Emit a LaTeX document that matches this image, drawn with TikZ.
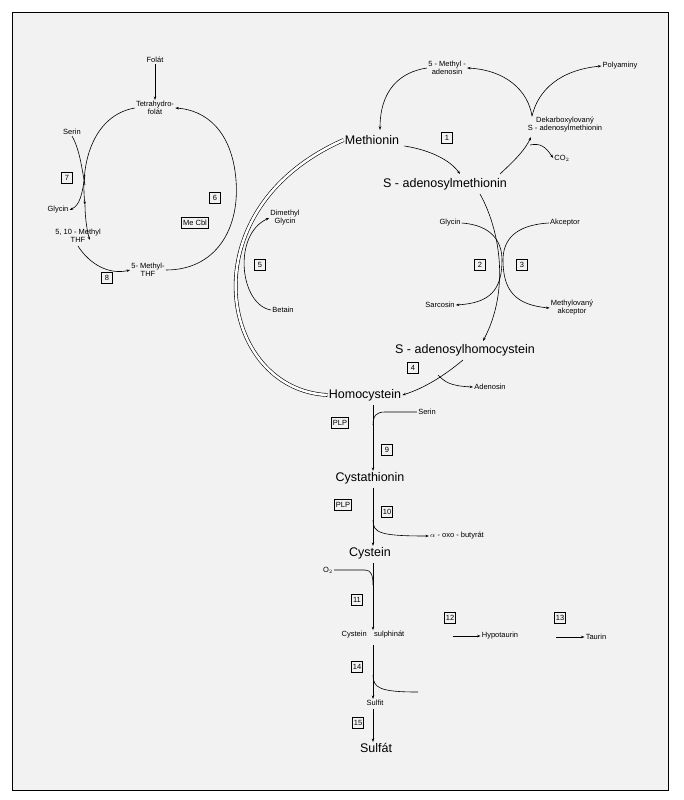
\documentclass[tikz,border=0pt]{standalone}
\usepackage{fontspec}
\setmainfont{Liberation Sans}
\usetikzlibrary{arrows.meta}

\begin{document}
\begin{tikzpicture}[x=1pt,y=-1pt,
  sm/.style={font=\fontsize{7.5}{8}\selectfont,align=center,inner sep=1pt},
  big/.style={font=\fontsize{12.5}{14}\selectfont,inner sep=1pt},
  num/.style={draw,font=\fontsize{7.5}{8}\selectfont,inner sep=1.5pt,minimum size=11pt},
  ar/.style={-{Stealth[length=3.5pt,width=2.5pt]}},
  line width=0.6pt]
\useasboundingbox (0,0) rectangle (684,800);
\fill[gray!10] (12,12) rectangle (668,790);
\draw[line width=0.8pt] (12,12) rectangle (668,790);

% folate cycle
\node[sm] (fol) at (155,60) {Folát};
\node[sm] (thf) at (155,108) {Tetrahydro-\\folát};
\node[sm] (ser) at (72,132) {Serin};
\node[sm] (gly) at (58,210) {Glycin};
\node[sm] (mthf) at (78,236) {5, 10 - Methyl\\THF};
\node[sm] (fmthf) at (148,270) {5- Methyl-\\THF};
\node[num] (n7) at (67,178) {7};
\node[num] (n8) at (107,278) {8};
\node[num] (n6) at (215,198) {6};
\node[num] (mecbl) at (195,223) {Me Cbl};
\draw[ar] (fol) -- (thf);
\draw[ar] (thf.west) .. controls (95,115) and (80,160) .. (85,205);
\draw[ar] (85,175) .. controls (82,195) and (80,205) .. (gly.east);
\draw (ser.south) .. controls (80,150) and (82,170) .. (85,185);
\draw[ar] (85,205) .. controls (85,220) and (88,235) .. (90,240);
\draw[ar] (mthf.south) ++(0,2) .. controls (90,265) and (110,275) .. (fmthf.west);
\draw[ar] (fmthf.east) .. controls (215,270) and (240,230) .. (236,180)
  .. controls (232,130) and (205,110) .. (thf.east);

% methionine remethylation (double arc)
\node[big] (met) at (372,140) {Methionin};
\node[big] (hcy) at (365,395) {Homocystein};
\draw[double,double distance=2.5pt] (hcy.west) .. controls (220,390) and (185,210) .. (met.west);
\node[sm] (dmg) at (285,218) {Dimethyl\\Glycin};
\node[sm] (bet) at (283,310) {Betain};
\node[num] (n5) at (260,265) {5};
\draw[ar] (bet.west) .. controls (240,305) and (232,235) .. (dmg.west);

% methionine cycle
\node[num] (n1) at (447,138) {1};
\node[big] (sam) at (445,184) {S - adenosylmethionin};
\node[sm] (dsam) at (565,125) {Dekarboxylovaný\\S - adenosylmethionin};
\node[sm] (co2) at (562,158) {CO$_2$};
\node[sm] (poly) at (620,66) {Polyaminy};
\node[sm] (mta) at (447,68) {5 - Methyl -\\adenosin};
\draw[ar] (met.east) ++(4,6) .. controls (430,150) and (450,160) .. (460,174);
\draw[ar] (500,174) .. controls (515,160) and (525,150) .. (531,137);
\draw[ar] (530,145) .. controls (540,143) and (545,146) .. (co2.west);
\draw[ar] (dsam.north) ++(-33,0) .. controls (528,90) and (505,70) .. (mta.east);
\draw[ar] (dsam.north) ++(-33,0) .. controls (538,90) and (560,70) .. (poly.west);
\draw[ar] (mta.west) .. controls (400,72) and (380,90) .. (380,130);

\node[sm] (glyb) at (450,223) {Glycin};
\node[sm] (akc) at (565,223) {Akceptor};
\node[num] (n2) at (480,265) {2};
\node[num] (n3) at (522,265) {3};
\node[sm] (sar) at (440,305) {Sarcosin};
\node[sm] (makc) at (572,308) {Methylovaný\\akceptor};
\node[big] (sah) at (465,350) {S - adenosylhomocystein};
\draw[ar] (480,194) .. controls (500,230) and (510,290) .. (483,341);
\draw[ar] (glyb.east) .. controls (490,225) and (502,240) .. (502,260)
  .. controls (502,290) and (490,303) .. (sar.east);
\draw[ar] (akc.west) .. controls (515,225) and (503,240) .. (503,260)
  .. controls (503,290) and (515,305) .. (makc.west);
\node[num] (n4) at (413,368) {4};
\node[sm] (ado) at (490,387) {Adenosin};
\draw[ar] (463,360) .. controls (445,375) and (425,388) .. (hcy.east);
\draw[ar] (438,375) .. controls (445,382) and (450,386) .. (ado.west);

% transsulfuration
\node[num] (plp1) at (340,423) {PLP};
\node[sm] (ser2) at (427,412) {Serin};
\node[num] (n9) at (387,450) {9};
\node[big] (cth) at (370,478) {Cystathionin};
\node[num] (plp2) at (343,505) {PLP};
\node[num] (n10) at (387,512) {10};
\node[sm] (oxo) at (457,536) {$\alpha$ - oxo - butyrát};
\node[big] (cys) at (370,553) {Cystein};
\node[sm] (o2) at (328,570) {O$_2$};
\node[num] (n11) at (357,600) {11};
\node[sm] (csa) at (373,635) {Cystein\quad sulphinát};
\node[num] (n12) at (450,618) {12};
\node[sm] (hypo) at (500,636) {Hypotaurin};
\node[num] (n13) at (560,618) {13};
\node[sm] (tau) at (596,637) {Taurin};
\node[num] (n14) at (357,667) {14};
\node[sm] (sulfit) at (375,703) {Sulfit};
\node[num] (n15) at (358,723) {15};
\node[big] (sulfat) at (376,748) {Sulfát};
\coordinate (end14) at (418,692);

\draw[ar] (373,405) -- (cth.north -| 373,0);
\draw (ser2.west) -- (385,412) .. controls (377,412) and (373,415) .. (373,425);
\draw[ar] (373,488) -- (cys.north -| 373,0);
\draw[ar] (373,520) .. controls (373,533) and (380,536) .. (oxo.west);
\draw[ar] (373,563) -- (csa.north -| 373,0);
\draw (o2.east) -- (365,570) .. controls (371,570) and (373,575) .. (373,585);
\draw[ar] (hypo.west) ++(-28,0) -- (hypo.west);
\draw[ar] (tau.west) ++(-28,0) -- (tau.west);
\draw[ar] (373,645) -- (sulfit.north -| 373,0);
\draw (373,675) .. controls (373,688) and (380,692) .. (end14);
\draw[ar] (373,709) -- (sulfat.north -| 373,0);
\end{tikzpicture}
\end{document}
